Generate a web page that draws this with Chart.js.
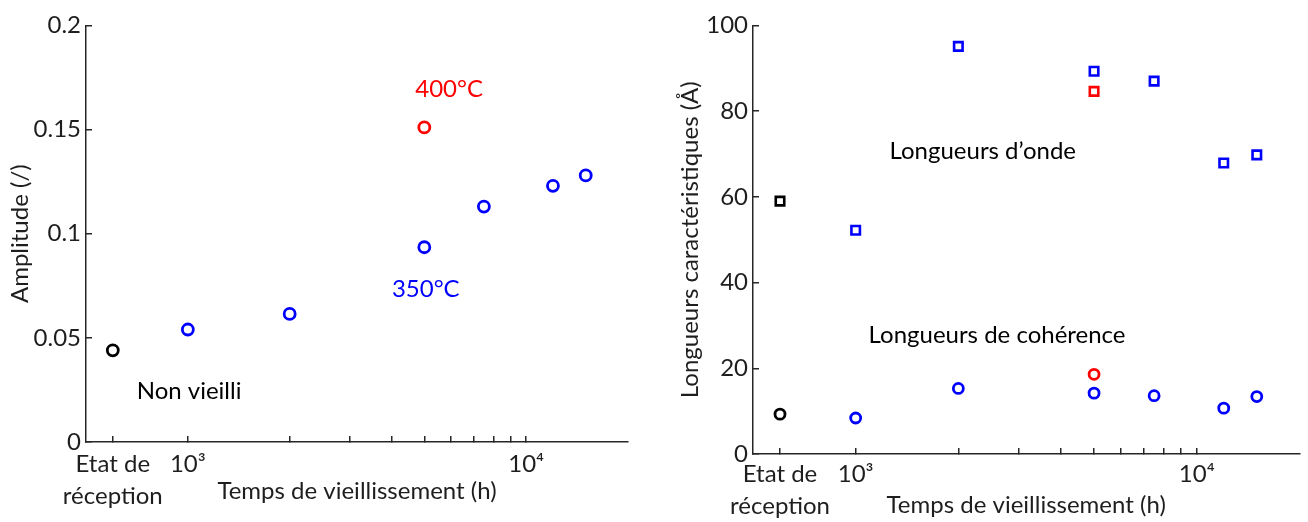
<!DOCTYPE html>
<html>
<head>
<meta charset="utf-8">
<script src="https://cdn.jsdelivr.net/npm/chart.js@4/dist/chart.umd.min.js"></script>
<style>
  body { margin: 0; background: #fff; width: 1308px; height: 522px; position: relative; overflow: hidden; }
  canvas { position: absolute; top: 0; }
  #chartAmplitude { left: 0; }
  #chartLongueurs { left: 660px; }
</style>
</head>
<body>
<canvas id="chartAmplitude" width="650" height="522"></canvas>
<canvas id="chartLongueurs" width="648" height="522"></canvas>
<script>
// "Etat de réception" is placed at 600 h on the log time axis
const heureReception = 600;
const heures350 = [1000, 2000, 5000, 7500, 12000, 15000];
const heures400 = [5000];
const ticksTemps = [600, 1000, 2000, 3000, 4000, 5000, 6000, 7000, 8000, 9000, 10000];

// Amplitude (/)
const ampReception = [0.044];
const amp350 = [0.054, 0.0615, 0.0935, 0.113, 0.123, 0.128];
const amp400 = [0.151];

// Longueurs caractéristiques (Å)
const ondeReception = [59.0];
const onde350 = [52.2, 95.1, 89.3, 87.0, 67.9, 69.8];
const onde400 = [84.6];
const cohReception = [9.3];
const coh350 = [8.4, 15.3, 14.2, 13.6, 10.7, 13.4];
const coh400 = [18.6];

const FONT = 'Lato, "Open Sans", sans-serif';
const AXE = '#262626';
const TEXTE = '#1e1e1e';

const points = (xs, ys) => xs.map((x, i) => ({ x: x, y: ys[i] }));

function labelTemps(v) {
  if (v === heureReception) return ['Etat de', 'réception'];
  if (v === 1000) return '10³';
  if (v === 10000) return '10⁴';
  return '';
}

// text notes placed in data coordinates
const notesPlugin = {
  id: 'notes',
  afterDatasetsDraw(chart, args, opts) {
    const ctx = chart.ctx;
    ctx.save();
    ctx.font = '24px ' + FONT;
    ctx.textAlign = 'left';
    ctx.textBaseline = 'middle';
    opts.items.forEach(n => {
      ctx.fillStyle = n.color;
      ctx.fillText(n.text, chart.scales.x.getPixelForValue(n.x), chart.scales.y.getPixelForValue(n.y));
    });
    ctx.restore();
  }
};

function makeOptions(o) {
  return {
    responsive: false,
    animation: false,
    layout: { padding: o.padding },
    plugins: {
      legend: { display: false },
      tooltip: { enabled: false },
      notes: { items: o.notes }
    },
    scales: {
      x: {
        type: 'logarithmic',
        min: 500,
        max: 20000,
        afterBuildTicks: s => { s.ticks = ticksTemps.map(v => ({ value: v })); },
        afterFit: s => { s.height = o.xHeight; },
        ticks: {
          autoSkip: false,
          maxRotation: 0,
          padding: o.xTickPad,
          color: TEXTE,
          font: { family: FONT, size: 24, lineHeight: 1.3 },
          callback: v => labelTemps(v)
        },
        grid: { drawOnChartArea: false, tickLength: -6, color: AXE, lineWidth: 1.5 },
        border: { color: AXE, width: 1.5 },
        title: {
          display: true,
          text: 'Temps de vieillissement (h)',
          color: TEXTE,
          font: { family: FONT, size: 24 },
          padding: { top: 0, bottom: o.xTitlePad }
        }
      },
      y: {
        min: 0,
        max: o.yMax,
        afterFit: s => { s.width = o.yWidth; },
        ticks: {
          stepSize: o.yStep,
          padding: 11,
          color: TEXTE,
          font: { family: FONT, size: 24 },
          callback: v => String(+v.toFixed(2))
        },
        grid: { drawOnChartArea: false, tickLength: -6, color: AXE, lineWidth: 1.5 },
        border: { color: AXE, width: 1.5 },
        title: {
          display: true,
          text: o.yTitle,
          color: TEXTE,
          font: { family: FONT, size: 24 },
          padding: { top: o.yTitlePad, bottom: 0 }
        }
      }
    }
  };
}

const cercle = (data, color, r) => ({
  data: data, pointStyle: 'circle', pointRadius: r, pointBorderWidth: 2.8,
  borderColor: color, backgroundColor: 'transparent', pointBackgroundColor: 'transparent', showLine: false
});
const carre = (data, color) => ({
  data: data, pointStyle: 'rect', pointRadius: 6, pointBorderWidth: 2.6,
  borderColor: color, backgroundColor: 'transparent', pointBackgroundColor: 'transparent', showLine: false
});

// Amplitude
new Chart(document.getElementById('chartAmplitude'), {
  type: 'scatter',
  data: {
    datasets: [
      cercle(points([heureReception], ampReception), '#000000', 5.5),
      cercle(points(heures350, amp350), '#0000ff', 5.5),
      cercle(points(heures400, amp400), '#ff0000', 5.5)
    ]
  },
  options: makeOptions({
    padding: { left: 0, right: 22, top: 16, bottom: 0 },
    xHeight: 80, yWidth: 86, xTickPad: 13, xTitlePad: 16, yTitlePad: 6,
    yMax: 0.2, yStep: 0.05, yTitle: 'Amplitude (/)',
    notes: [
      { x: 4700, y: 0.1695, text: '400°C', color: '#ff0000' },
      { x: 4010, y: 0.0735, text: '350°C', color: '#0000ff' },
      { x: 706, y: 0.0244, text: 'Non vieilli', color: '#000000' }
    ]
  }),
  plugins: [notesPlugin]
});

// Longueurs caractéristiques
new Chart(document.getElementById('chartLongueurs'), {
  type: 'scatter',
  data: {
    datasets: [
      carre(points([heureReception], ondeReception), '#000000'),
      carre(points(heures350, onde350), '#0000ff'),
      carre(points(heures400, onde400), '#ff0000'),
      cercle(points([heureReception], cohReception), '#000000', 5),
      cercle(points(heures350, coh350), '#0000ff', 5),
      cercle(points(heures400, coh400), '#ff0000', 5)
    ]
  },
  options: makeOptions({
    padding: { left: 0, right: 8, top: 25, bottom: 0 },
    xHeight: 68, yWidth: 93, xTickPad: 11, xTitlePad: 2, yTitlePad: 16,
    yMax: 100, yStep: 20, yTitle: 'Longueurs caractéristiques (Å)',
    notes: [
      { x: 1257, y: 70.6, text: 'Longueurs d’onde', color: '#000000' },
      { x: 1091, y: 27.7, text: 'Longueurs de cohérence', color: '#000000' }
    ]
  }),
  plugins: [notesPlugin]
});
</script>
</body>
</html>
